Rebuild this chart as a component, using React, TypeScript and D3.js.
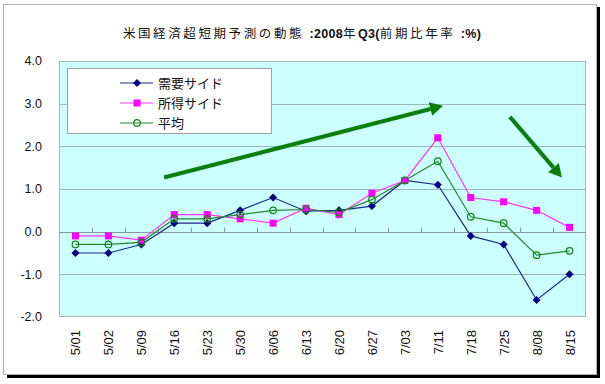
import { useEffect, useRef } from 'react';
import * as d3 from 'd3';

const categories = ["5/01", "5/02", "5/09", "5/16", "5/23", "5/30", "6/06", "6/13", "6/20", "6/27", "7/03", "7/11", "7/18", "7/25", "8/08", "8/15"];
const demandSide = [-0.5, -0.5, -0.3, 0.2, 0.2, 0.5, 0.8, 0.48, 0.5, 0.6, 1.2, 1.1, -0.1, -0.3, -1.6, -1.0];
const incomeSide = [-0.1, -0.1, -0.2, 0.4, 0.4, 0.3, 0.2, 0.55, 0.4, 0.9, 1.2, 2.2, 0.8, 0.7, 0.5, 0.1];
const average = [-0.3, -0.3, -0.25, 0.3, 0.3, 0.4, 0.5, 0.52, 0.45, 0.75, 1.2, 1.65, 0.35, 0.2, -0.55, -0.45];
const yTicks = [-2, -1, 0, 1, 2, 3, 4];
const seriesNames = ["需要サイド", "所得サイド", "平均"];

// trend arrows in (category index, value) units
const arrows = [
  { from: [2.69, 1.27], to: [11.16, 2.95] },
  { from: [13.19, 2.69], to: [14.77, 1.27] },
];

const fontJa = "'Noto Sans CJK JP', 'Liberation Sans', sans-serif";
const fontNum = "'Liberation Sans', Arial, sans-serif";

export default function App() {
  const ref = useRef<SVGSVGElement | null>(null);

  useEffect(() => {
    if (!ref.current) return;
    const svg = d3.select(ref.current);
    svg.selectAll("*").remove();

    const W = 605, H = 384;
    const margin = { top: 61, right: 19, bottom: 67, left: 59 };
    const plotW = W - margin.left - margin.right;
    const plotH = H - margin.top - margin.bottom;

    // outer frame with drop shadow
    svg.append("rect").attr("x", 7).attr("y", 7).attr("width", 593).attr("height", 371).attr("fill", "#000");
    svg.append("rect").attr("x", 3.5).attr("y", 4.5).attr("width", 593).attr("height", 370)
      .attr("fill", "#fff").attr("stroke", "#b0b0b0").attr("stroke-width", 1);

    const x = d3.scaleBand<string>().domain(categories).range([margin.left, margin.left + plotW]);
    const xi = d3.scaleLinear().domain([-0.5, categories.length - 0.5]).range([margin.left, margin.left + plotW]);
    const y = d3.scaleLinear().domain([-2, 4]).range([margin.top + plotH, margin.top]);
    const cx = (i: number) => x(categories[i])! + x.bandwidth() / 2;

    svg.append("rect")
      .attr("x", margin.left).attr("y", margin.top).attr("width", plotW).attr("height", plotH)
      .attr("fill", "#ccffff");

    // gridlines
    svg.selectAll("line.grid")
      .data(yTicks.filter(t => t !== 0 && t !== -2 && t !== 4))
      .enter().append("line")
      .attr("class", "grid")
      .attr("x1", margin.left).attr("x2", margin.left + plotW)
      .attr("y1", d => Math.round(y(d)) + 0.5).attr("y2", d => Math.round(y(d)) + 0.5)
      .attr("stroke", "#9db5b5").attr("stroke-width", 1);

    svg.append("rect")
      .attr("x", margin.left + 0.5).attr("y", margin.top + 0.5).attr("width", plotW - 1).attr("height", plotH - 1)
      .attr("fill", "none").attr("stroke", "#a8b4b4").attr("stroke-width", 1);

    // category axis on the zero line
    const y0 = Math.round(y(0)) + 0.5;
    svg.append("line")
      .attr("x1", margin.left).attr("x2", margin.left + plotW)
      .attr("y1", y0).attr("y2", y0)
      .attr("stroke", "#8a9a9a").attr("stroke-width", 1);
    svg.selectAll("line.xtick")
      .data(categories.slice(1))
      .enter().append("line")
      .attr("class", "xtick")
      .attr("x1", d => Math.round(x(d)!) + 0.5).attr("x2", d => Math.round(x(d)!) + 0.5)
      .attr("y1", y0).attr("y2", y0 - 5)
      .attr("stroke", "#8a9a9a");

    svg.selectAll("text.xlab")
      .data(categories)
      .enter().append("text")
      .attr("class", "xlab")
      .attr("transform", (d, i) => `translate(${cx(i) + 5},${margin.top + plotH + 13}) rotate(-90)`)
      .attr("text-anchor", "end")
      .attr("font-family", fontNum)
      .attr("font-size", "13px")
      .attr("fill", "#111")
      .text(d => d);

    svg.selectAll("text.ylab")
      .data(yTicks)
      .enter().append("text")
      .attr("class", "ylab")
      .attr("x", 42).attr("y", d => y(d))
      .attr("dy", "0.35em")
      .attr("text-anchor", "end")
      .attr("font-family", fontNum)
      .attr("font-size", "12.5px")
      .attr("fill", "#111")
      .text(d => d.toFixed(1));

    // title
    const title = svg.append("text")
      .attr("x", 302).attr("y", 38)
      .attr("text-anchor", "middle")
      .attr("font-family", fontJa)
      .attr("font-size", "12.5px")
      .attr("fill", "#111");
    title.append("tspan").attr("letter-spacing", "2.6px").text("米国経済超短期予測の動態 ");
    title.append("tspan").attr("font-family", fontNum).attr("font-weight", "bold").attr("letter-spacing", "0.3px").text(":2008");
    title.append("tspan").attr("letter-spacing", "2.6px").text("年");
    title.append("tspan").attr("font-family", fontNum).attr("font-weight", "bold").attr("letter-spacing", "0.3px").text("Q3(");
    title.append("tspan").attr("letter-spacing", "2.6px").text("前期比年率 ");
    title.append("tspan").attr("font-family", fontNum).attr("font-weight", "bold").attr("letter-spacing", "0.3px").text(":%)");

    // arrows
    arrows.forEach(a => {
      const x1 = xi(a.from[0]), y1 = y(a.from[1]);
      const x2 = xi(a.to[0]), y2 = y(a.to[1]);
      const ang = Math.atan2(y2 - y1, x2 - x1);
      const headLen = 13, headW = 7;
      const bx = x2 - headLen * Math.cos(ang), by = y2 - headLen * Math.sin(ang);
      svg.append("line")
        .attr("x1", x1).attr("y1", y1).attr("x2", bx).attr("y2", by)
        .attr("stroke", "#0a800a").attr("stroke-width", 4);
      const px = -Math.sin(ang), py = Math.cos(ang);
      svg.append("polygon")
        .attr("points", `${x2},${y2} ${bx + px * headW},${by + py * headW} ${bx - px * headW},${by - py * headW}`)
        .attr("fill", "#0a800a");
    });

    const line = d3.line<number>().x((d, i) => cx(i)).y(d => y(d));
    const diamond = d3.symbol().type(d3.symbolSquare).size(32);

    const drawDemandMarker = (g: any, px: number, py: number) =>
      g.append("path").attr("d", diamond).attr("transform", `translate(${px},${py}) rotate(45)`).attr("fill", "#000080");
    const drawIncomeMarker = (g: any, px: number, py: number) =>
      g.append("rect").attr("x", px - 3.5).attr("y", py - 3.5).attr("width", 7).attr("height", 7).attr("fill", "#ff00ff");
    const drawAvgMarker = (g: any, px: number, py: number) =>
      g.append("circle").attr("cx", px).attr("cy", py).attr("r", 3.3).attr("fill", "none").attr("stroke", "#118811").attr("stroke-width", 1.2);

    const series = [
      { data: demandSide, color: "#1a2a8a", marker: drawDemandMarker },
      { data: incomeSide, color: "#ff33ff", marker: drawIncomeMarker },
      { data: average, color: "#22882a", marker: drawAvgMarker },
    ];

    series.forEach(s => {
      svg.append("path")
        .datum(s.data)
        .attr("fill", "none")
        .attr("stroke", s.color)
        .attr("stroke-width", 1.2)
        .attr("d", line);
    });
    series.forEach(s => {
      const g = svg.append("g");
      s.data.forEach((v, i) => s.marker(g, cx(i), y(v)));
    });

    // legend
    const lg = svg.append("g");
    lg.append("rect")
      .attr("x", 67.5).attr("y", 68.5).attr("width", 204).attr("height", 65)
      .attr("fill", "#fff").attr("stroke", "#a0a0a0");
    seriesNames.forEach((name, i) => {
      const ly = 83 + i * 20;
      const s = series[i];
      lg.append("line").attr("x1", 120).attr("x2", 153).attr("y1", ly).attr("y2", ly)
        .attr("stroke", s.color).attr("stroke-width", 1.2);
      s.marker(lg, 137, ly);
      lg.append("text")
        .attr("x", 158).attr("y", ly).attr("dy", "0.36em")
        .attr("font-family", fontJa)
        .attr("font-size", "13px")
        .attr("fill", "#111")
        .text(name);
    });
  }, []);

  return (
    <svg ref={ref} width={605} height={384}
      style={{ position: 'absolute', left: 0, top: 0, background: '#fff' }} />
  );
}
